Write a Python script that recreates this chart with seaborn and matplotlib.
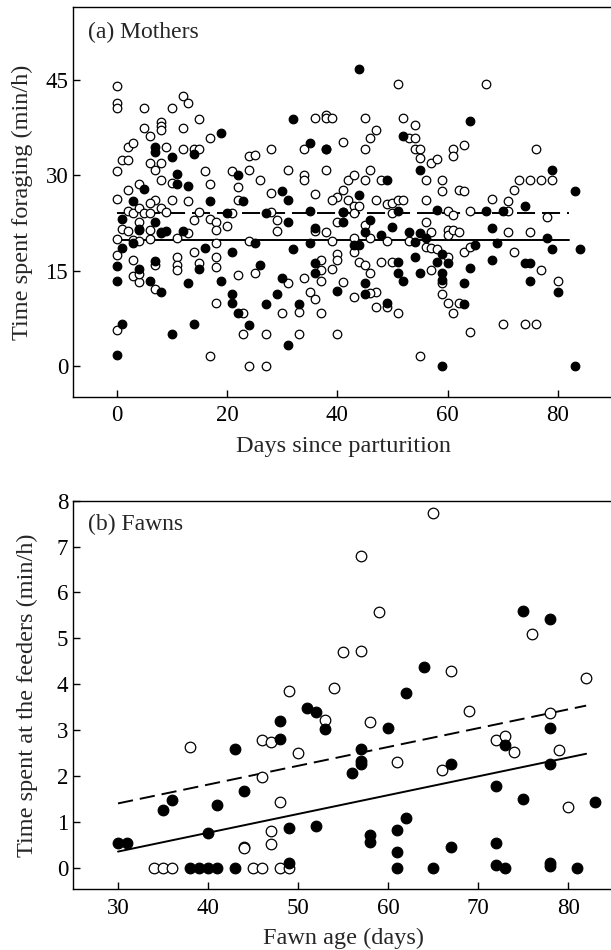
import numpy as np
import pandas as pd
import matplotlib
matplotlib.use("Agg")
import matplotlib.pyplot as plt
import seaborn as sns

# (a) Mothers: (days since parturition, min/h foraging)
mothers_open = [
    (0, 44.0), (0, 41.4), (0, 40.5), (0, 30.6), (0, 26.3), (0, 20.0), (0, 17.5), (0, 5.7),
    (1, 32.4), (2, 32.4), (2, 34.4), (3, 35.0), (2, 27.7), (2, 24.4), (1, 21.5), (2, 21.3),
    (3, 24.0), (3, 19.8), (4, 28.7), (4, 24.8), (4, 22.7), (4, 21.5), (5, 24.0), (4, 19.6),
    (3, 16.7), (3, 14.1), (4, 13.3), (4, 14.5), (5, 40.5), (5, 37.4), (6, 36.1), (6, 31.9),
    (7, 30.8), (7, 26.1), (6, 25.6), (6, 24.0), (6, 21.4), (6, 20.0), (7, 15.9), (7, 12.1),
    (8, 38.4), (8, 37.8), (8, 37.1), (8, 31.9), (8, 29.3), (8, 24.8), (8, 21.1), (9, 34.5),
    (10, 40.5), (10, 28.8), (10, 26.1), (9, 24.3), (11, 20.1), (11, 17.2), (11, 15.9), (11, 15.1),
    (12, 42.4), (13, 41.3), (12, 37.4), (12, 34.2), (13, 25.9), (13, 20.9), (14, 34.2), (15, 34.2),
    (15, 38.9), (14, 17.9), (14, 22.9), (15, 24.3), (15, 16.2), (16, 30.6), (17, 35.8), (17, 28.7),
    (17, 23.2), (18, 22.7), (18, 21.4), (18, 19.4), (18, 17.2), (18, 15.6), (18, 9.9), (17, 1.6),
    (20, 22.0), (21, 24.0), (21, 30.6), (22, 28.2), (22, 26.1), (22, 14.3), (24, 19.6), (24, 33.0),
    (25, 33.2), (24, 30.9), (26, 29.3), (23, 8.3), (23, 5.0), (24, 0.0), (27, 0.0), (25, 14.7),
    (27, 5.0), (28, 34.1), (28, 27.2), (28, 24.3), (29, 23.0), (29, 21.2), (30, 8.3), (31, 13.0),
    (31, 30.9), (33, 8.5), (33, 5.0), (34, 34.1), (34, 30.0), (34, 29.2), (34, 13.8), (35, 11.7),
    (36, 10.6), (36, 27.1), (36, 21.2), (36, 39.0),
    (38, 39.5), (38, 39.0), (39, 39.0), (38, 34.1), (38, 30.8), (38, 21.1), (41, 35.3), (40, 5.0),
    (41, 27.7), (40, 26.6), (39, 26.1), (40, 22.7), (41, 24.3), (39, 19.6), (40, 17.7), (40, 16.7),
    (39, 15.2), (41, 13.3), (37, 16.7), (37, 15.1), (37, 13.4), (37, 8.3), (42, 29.3), (43, 30.0),
    (42, 26.1), (43, 25.1), (43, 24.0), (43, 20.1), (43, 17.9), (44, 25.1), (44, 16.4), (45, 15.9),
    (46, 14.6), (43, 10.9), (45, 39.0), (47, 37.1), (46, 35.8), (45, 34.1), (46, 30.8), (45, 29.3),
    (45, 22.2), (46, 20.1), (47, 26.1), (48, 29.3), (47, 11.7), (46, 11.5), (47, 9.3), (49, 9.3),
    (48, 16.4), (49, 25.5), (49, 19.6), (50, 25.6), (50, 24.0), (50, 16.4), (51, 26.1), (52, 26.1),
    (51, 8.3), (51, 44.4), (52, 39.0), (54, 37.9), (53, 35.8), (54, 35.8), (54, 34.1), (55, 34.1),
    (55, 32.7), (56, 29.3), (57, 31.9), (58, 32.5), (56, 26.1), (56, 22.7), (57, 21.1), (56, 18.8),
    (57, 18.5), (58, 18.4), (57, 15.1), (53, 19.6), (59, 29.3), (59, 27.6), (60, 24.4), (61, 23.8),
    (60, 21.4), (60, 20.6), (61, 21.4), (62, 21.1), (60, 17.2), (59, 13.0), (59, 11.3), (60, 10.0),
    (61, 8.4), (62, 10.0), (61, 34.1), (61, 33.1), (62, 27.7), (63, 27.6), (63, 34.8), (64, 24.4),
    (63, 17.9), (64, 18.8), (55, 1.6), (64, 5.4), (67, 44.4), (68, 26.3), (70, 6.6), (71, 26.0),
    (71, 24.4), (71, 21.1), (72, 17.9), (72, 27.7), (73, 29.2), (75, 29.2), (77, 29.2), (79, 29.2),
    (76, 34.1), (74, 6.6), (76, 6.7), (75, 21.1), (78, 23.4), (77, 15.1), (80, 13.4),
]
mothers_filled = [
    (0, 1.7), (1, 6.6), (1, 23.2), (1, 18.5), (0, 15.7), (0, 13.4), (3, 25.9), (3, 19.4),
    (5, 27.8), (4, 21.4), (4, 15.2), (6, 13.4), (7, 16.5), (7, 34.5), (7, 33.7), (7, 22.7),
    (8, 20.9), (9, 21.3), (8, 11.7), (10, 32.8), (11, 30.2), (11, 28.7), (12, 21.3), (13, 28.3),
    (13, 13.0), (14, 33.3), (15, 15.2), (14, 6.7), (10, 5.0), (16, 18.5), (17, 26.0), (19, 36.7),
    (19, 13.4), (20, 24.0), (21, 17.9), (21, 11.4), (21, 9.9), (22, 30.0), (23, 25.9), (22, 8.3),
    (24, 6.4), (25, 19.4), (26, 15.9), (27, 9.8), (27, 24.0), (29, 11.4), (30, 27.5), (31, 26.1),
    (31, 22.7), (30, 13.8), (31, 3.3), (32, 38.9), (32, 18.4), (33, 9.8), (35, 35.0), (35, 24.4),
    (35, 19.4), (36, 16.2), (36, 14.6), (36, 21.7),
    (44, 46.7), (64, 38.5), (52, 36.1), (38, 34.2), (49, 29.2), (55, 30.8), (44, 26.9), (41, 24.3),
    (41, 22.7), (46, 22.9), (45, 21.1), (43, 19.0), (44, 19.0), (48, 20.6), (50, 21.8), (51, 24.4),
    (45, 13.0), (45, 11.3), (40, 11.8), (49, 9.9), (51, 16.4), (51, 14.6), (52, 13.4), (53, 21.1),
    (54, 19.5), (55, 20.9), (56, 20.2), (54, 17.2), (55, 14.6), (58, 24.6), (59, 17.7), (58, 16.3),
    (60, 16.2), (59, 14.6), (59, 13.5), (63, 13.0), (63, 9.8), (64, 15.5), (65, 19.1), (67, 24.4),
    (68, 21.7), (68, 16.7), (70, 24.4), (69, 19.4), (74, 25.1), (74, 16.2), (75, 16.2), (75, 13.4),
    (78, 20.1), (79, 30.8), (79, 18.4), (80, 11.7), (83, 27.6), (84, 18.4), (83, 0.0), (59, 0.0),
]
# fitted lines (intercept, slope) and their x range
mothers_fit_open = (24.0, 0.0)
mothers_fit_filled = (19.9, 0.0)
mothers_fit_range = (0, 82)

# (b) Fawns: (fawn age in days, min/h at the feeders)
fawns_open = [
    (34, 0), (35, 0), (36, 0), (45, 0), (46, 0), (48, 0), (49, 0), (38, 2.63), (44, 0.46),
    (44, 0.42), (46, 1.98), (46, 2.78), (47, 2.74), (47, 0.80), (47, 0.52), (48, 1.44),
    (49, 3.85), (50, 2.49), (53, 3.21), (54, 3.91), (55, 4.71), (57, 4.73), (57, 6.79),
    (58, 3.17), (59, 5.58), (61, 2.30), (65, 7.73), (66, 2.13), (67, 4.28), (69, 3.41),
    (72, 2.79), (73, 2.86), (74, 2.52), (76, 5.10), (78, 3.38), (79, 2.57), (80, 1.33), (82, 4.14),
]
fawns_filled = [
    (30, 0.54), (31, 0.54), (35, 1.25), (36, 1.47), (38, 0), (39, 0), (40, 0), (41, 0),
    (40, 0.76), (41, 1.36), (43, 2.58), (43, 0), (44, 1.67), (48, 3.19), (48, 2.80), (49, 0.87),
    (49, 0.11), (51, 3.48), (52, 3.39), (53, 3.02), (52, 0.91), (56, 2.06), (57, 2.58), (57, 2.32),
    (57, 2.26), (58, 0.72), (58, 0.55), (60, 3.04), (61, 0.81), (61, 0.35), (61, 0), (62, 3.80),
    (62, 1.09), (64, 4.37), (65, 0), (67, 2.26), (67, 0.46), (72, 1.79), (72, 0.53), (72, 0.06),
    (73, 2.68), (73, 0), (75, 5.60), (75, 1.50), (78, 5.43), (78, 3.04), (78, 2.25), (78, 0.11),
    (78, 0.04), (81, 0), (83, 1.42),
]
fawns_fit_open = (0.17, 0.041)
fawns_fit_filled = (-0.88, 0.041)
fawns_fit_range = (30, 82)

sns.set_theme(style="ticks")
plt.rcParams["font.family"] = ["Liberation Serif", "DejaVu Serif"]
plt.rcParams["lines.scale_dashes"] = False

fig = plt.figure(figsize=(6.11, 9.5), dpi=100)
ax_a = fig.add_axes([0.1195, 0.5824, 0.884, 0.410])
ax_b = fig.add_axes([0.1195, 0.0640, 0.884, 0.409])


def draw_panel(ax, open_pts, filled_pts, fit_open, fit_filled, fit_range, size, dash):
    xs = np.linspace(fit_range[0], fit_range[1], 50)
    sns.lineplot(x=xs, y=fit_open[0] + fit_open[1] * xs, ax=ax, color="black", lw=1.4, zorder=1)
    ax.lines[-1].set_dashes(dash)
    sns.lineplot(x=xs, y=fit_filled[0] + fit_filled[1] * xs, ax=ax, color="black", lw=1.4, zorder=1)
    op = pd.DataFrame(open_pts, columns=["x", "y"])
    fp = pd.DataFrame(filled_pts, columns=["x", "y"])
    sns.scatterplot(data=op, x="x", y="y", ax=ax, s=size, facecolor="white",
                    edgecolor="black", linewidth=0.9, zorder=2)
    sns.scatterplot(data=fp, x="x", y="y", ax=ax, s=size, facecolor="black",
                    edgecolor="black", linewidth=0.9, zorder=3)
    for sp in ax.spines.values():
        sp.set_linewidth(1.0)
        sp.set_color("black")
    ax.tick_params(direction="in", length=5, width=1.0, labelsize=16.5, colors="black")
    ax.tick_params(axis="x", pad=6)


draw_panel(ax_a, mothers_open, mothers_filled, mothers_fit_open, mothers_fit_filled,
           mothers_fit_range, 38, (13, 5))
ax_a.set_xlim(-7.9, 90)
ax_a.set_ylim(-4.8, 56.4)
ax_a.set_xticks([0, 20, 40, 60, 80])
ax_a.set_yticks([0, 15, 30, 45])
ax_a.set_xlabel("Days since parturition", fontsize=17.5, va="center")
ax_a.set_ylabel("Time spent foraging (min/h)", fontsize=17.5, va="center")
ax_a.xaxis.set_label_coords(0.5, -0.1266)
ax_a.yaxis.set_label_coords(-0.0935, 0.5)
ax_a.text(0.028, 0.935, "(a) Mothers", transform=ax_a.transAxes, fontsize=17, va="center")

draw_panel(ax_b, fawns_open, fawns_filled, fawns_fit_open, fawns_fit_filled,
           fawns_fit_range, 58, (11, 5))
ax_b.set_xlim(25, 85)
ax_b.set_ylim(-0.47, 8)
ax_b.set_xticks([30, 40, 50, 60, 70, 80])
ax_b.set_yticks(range(0, 9))
ax_b.set_xlabel("Fawn age (days)", fontsize=17.5, va="center")
ax_b.set_ylabel("Time spent at the feeders (min/h)", fontsize=17.5, va="center")
ax_b.xaxis.set_label_coords(0.5, -0.1263)
ax_b.yaxis.set_label_coords(-0.085, 0.5)
ax_b.text(0.028, 0.939, "(b) Fawns", transform=ax_b.transAxes, fontsize=17, va="center")

fig.savefig("out.png", dpi=100)
